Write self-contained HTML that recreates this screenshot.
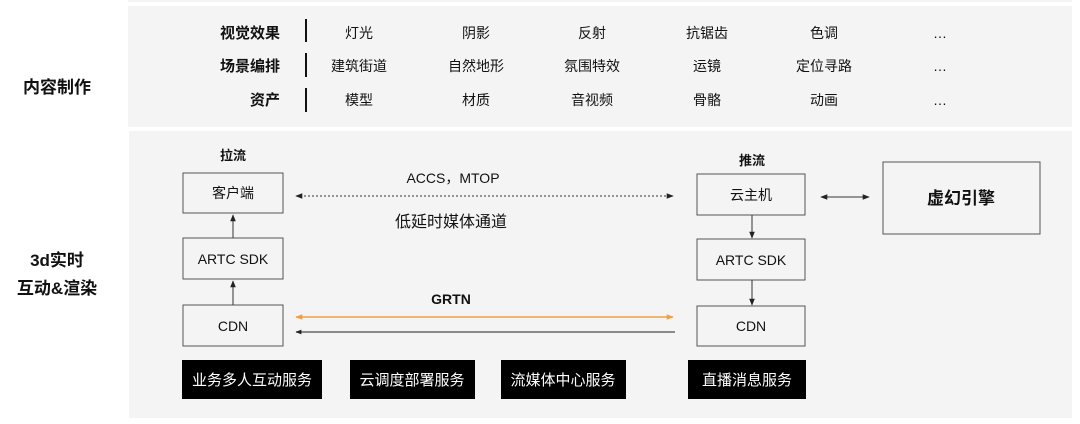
<!DOCTYPE html>
<html><head><meta charset="utf-8"><style>
html,body{margin:0;padding:0;background:#fff;width:1080px;height:424px;overflow:hidden}
svg{display:block}
text{font-family:"Liberation Sans","Noto Sans CJK SC",sans-serif;fill:#111}
</style></head><body>
<svg width="1080" height="424" viewBox="0 0 1080 424">
<defs>
<marker id="a" viewBox="0 0 10 10" refX="9" refY="5" markerWidth="7" markerHeight="7" orient="auto-start-reverse"><path d="M0,1 L10,5 L0,9 z" fill="#222"/></marker>
<marker id="s" viewBox="0 0 10 10" refX="9" refY="5" markerWidth="6" markerHeight="6" markerUnits="userSpaceOnUse" orient="auto-start-reverse"><path d="M0,1 L10,5 L0,9 z" fill="#222"/></marker>
<marker id="o" viewBox="0 0 10 10" refX="9" refY="5" markerWidth="7" markerHeight="7" markerUnits="userSpaceOnUse" orient="auto-start-reverse"><path d="M0,1 L10,5 L0,9 z" fill="#f0a040"/></marker>
</defs>
<rect x="128" y="0" width="944" height="2" fill="#f4f4f4"/>
<rect x="128" y="6" width="944" height="121" fill="#f4f4f4"/>
<rect x="129" y="131" width="943" height="287" fill="#f4f4f4"/>

<text x="57" y="93" font-size="17" font-weight="bold" text-anchor="middle">内容制作</text>
<text x="57" y="266" font-size="17" font-weight="bold" text-anchor="middle">3d实时</text>
<text x="57" y="294" font-size="17" font-weight="bold" text-anchor="middle">互动&amp;渲染</text>

<g font-size="15" font-weight="bold" text-anchor="end">
<text x="280" y="38">视觉效果</text><text x="280" y="71">场景编排</text><text x="280" y="105">资产</text>
</g>
<g stroke="#111" stroke-width="2"><line x1="306" y1="19" x2="306" y2="42"/><line x1="306" y1="53" x2="306" y2="77"/><line x1="306" y1="88" x2="306" y2="112"/></g>
<g font-size="14" text-anchor="middle">
<text x="359" y="38">灯光</text><text x="476" y="38">阴影</text><text x="592" y="38">反射</text><text x="707" y="38">抗锯齿</text><text x="824" y="38">色调</text><text x="940" y="38">…</text>
<text x="359" y="71">建筑街道</text><text x="476" y="71">自然地形</text><text x="592" y="71">氛围特效</text><text x="707" y="71">运镜</text><text x="824" y="71">定位寻路</text><text x="940" y="71">…</text>
<text x="359" y="105">模型</text><text x="476" y="105">材质</text><text x="592" y="105">音视频</text><text x="707" y="105">骨骼</text><text x="824" y="105">动画</text><text x="940" y="105">…</text>
</g>

<g fill="none" stroke="#555" stroke-width="1">
<rect x="183" y="173" width="100" height="40"/><rect x="183" y="238" width="100" height="41"/><rect x="183" y="305" width="100" height="41"/>
<rect x="697" y="174" width="108" height="41"/><rect x="697" y="239" width="108" height="41"/><rect x="697" y="306" width="108" height="40"/>
<rect x="883" y="162" width="157" height="72"/>
</g>
<text x="233" y="160" font-size="13" font-weight="bold" text-anchor="middle">拉流</text>
<text x="752" y="165" font-size="13" font-weight="bold" text-anchor="middle">推流</text>
<g font-size="14" text-anchor="middle">
<text x="233" y="198">客户端</text><text x="233" y="264">ARTC SDK</text><text x="233" y="331">CDN</text>
<text x="751" y="200">云主机</text><text x="751" y="265">ARTC SDK</text><text x="751" y="331">CDN</text>
<text x="453" y="183">ACCS，MTOP</text>
</g>
<text x="961" y="204" font-size="17" font-weight="bold" text-anchor="middle">虚幻引擎</text>
<text x="451" y="227" font-size="16" text-anchor="middle">低延时媒体通道</text>
<text x="451" y="304" font-size="14" font-weight="bold" text-anchor="middle">GRTN</text>

<g stroke="#333" stroke-width="1" fill="none">
<line x1="233" y1="238" x2="233" y2="215" marker-end="url(#a)"/>
<line x1="233" y1="305" x2="233" y2="281" marker-end="url(#a)"/>
<line x1="752" y1="215" x2="752" y2="238" marker-end="url(#a)"/>
<line x1="752" y1="280" x2="752" y2="305" marker-end="url(#a)"/>
<line x1="296" y1="196" x2="673" y2="196" stroke-dasharray="2,2" marker-start="url(#a)" marker-end="url(#a)"/>
<line x1="821" y1="197" x2="869" y2="197" marker-start="url(#a)" marker-end="url(#a)"/>
<line x1="675" y1="332" x2="296" y2="332" stroke="#666" stroke-width="1.5" marker-end="url(#s)"/>
<line x1="296" y1="317" x2="673" y2="317" stroke="#f0a040" stroke-width="1.5" marker-start="url(#o)" marker-end="url(#o)"/>
</g>

<g fill="#000"><rect x="182" y="360" width="140" height="39"/><rect x="350" y="360" width="125" height="39"/><rect x="501" y="360" width="125" height="39"/><rect x="688" y="360" width="118" height="39"/></g>
<g font-size="15" text-anchor="middle">
<text x="252" y="385" style="fill:#fff">业务多人互动服务</text><text x="412" y="385" style="fill:#fff">云调度部署服务</text><text x="563" y="385" style="fill:#fff">流媒体中心服务</text><text x="747" y="385" style="fill:#fff">直播消息服务</text>
</g>
</svg>
</body></html>
